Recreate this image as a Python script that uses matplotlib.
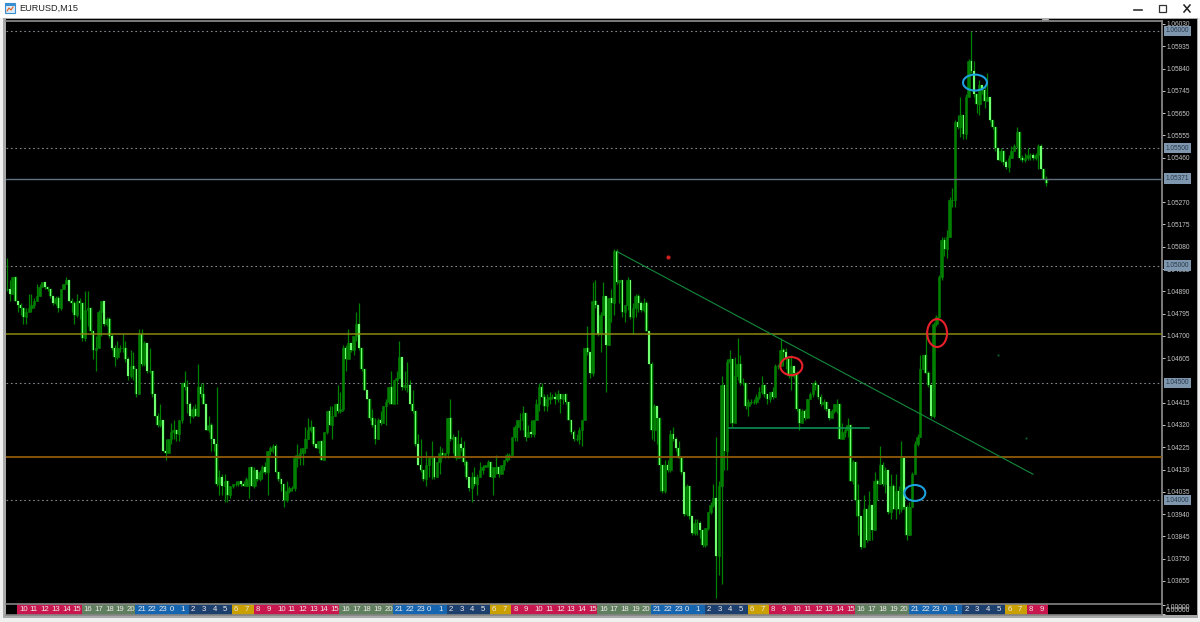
import matplotlib
matplotlib.use("Agg")
import matplotlib.pyplot as plt
from matplotlib.patches import Ellipse, Rectangle

# prices are kept as pips above 1.03000
BASE = 1.03
closes = [
    190,188,195,185,183,182,178,180,182,183, 185,187,191,193,191,190,187,184,186,182,
    190,192,194,185,184,179,185,184,169,181, 182,172,164,165,180,185,175,177,170,165,
    161,165,165,165,160,153,157,156,145,171, 158,167,155,155,145,136,132,134,121,120,
    126,129,130,128,134,150,148,141,136,139, 136,148,145,141,130,132,126,124,107,110,
    106,108,102,106,107,107,108,107,106,109, 114,106,113,109,112,114,112,121,122,123,
    112,109,107,100,104,105,105,118,119,120, 122,126,130,131,124,122,125,117,129,138,
    132,136,141,138,139,165,160,167,164,170, 175,165,156,147,143,135,132,126,134,133,
    140,142,148,141,151,152,161,148,149,149, 141,138,124,115,113,109,115,118,118,110,
    116,120,119,120,135,126,127,118,124,122, 116,110,105,110,107,110,113,114,115,116,
    110,114,114,111,115,117,119,119,127,131, 134,134,137,127,129,128,134,141,148,144,
    140,143,144,144,143,145,143,145,142,134, 129,126,126,130,134,165,163,154,185,183,
    171,179,187,166,186,184,206,193,194,180, 183,194,178,182,187,184,181,184,172,158,
    130,140,135,115,104,115,113,128,126,122, 118,112,94,106,93,86,90,90,87,81,
    88,95,98,101,76,106,149,121,159,160, 133,153,158,150,150,140,142,142,142,144,
    146,149,145,143,146,144,157,157,164,163, 160,153,157,154,139,133,138,135,143,145,
    150,149,144,141,142,139,135,138,141,141, 126,129,130,132,108,116,100,93,80,96,
    83,98,87,108,107,115,107,113,95,106, 96,104,96,118,97,85,97,111,124,127,
    156,162,154,149,136,175,178,195,211,207, 212,228,228,261,259,264,256,272,287,283,
    273,269,277,275,270,272,262,259,250,245, 249,244,242,246,249,251,257,246,245,246,
    247,247,246,247,251,241,237,235,
]
highs = [
    203,194,195,195,185,184,182,182,188,188, 186,192,192,193,193,191,190,187,187,187,
    190,192,195,194,186,185,188,186,184,189, 189,182,172,170,181,185,181,178,178,171,
    166,168,166,171,168,161,164,163,156,173, 173,168,167,165,155,143,137,141,134,126,
    126,133,134,130,134,150,155,151,142,140, 141,158,150,150,141,136,133,126,148,113,
    111,111,108,106,107,108,108,108,108,110, 114,114,114,113,113,115,116,121,123,124,
    124,112,109,107,108,106,106,119,124,122, 122,131,135,134,131,124,125,125,129,138,
    140,140,141,149,146,166,166,173,167,170, 180,184,165,156,147,143,139,135,135,138,
    140,143,148,155,151,155,168,161,155,159, 151,147,138,128,126,113,121,118,125,118,
    116,123,122,120,135,143,128,127,130,127, 125,117,110,112,114,111,116,115,115,117,
    114,114,119,114,115,117,120,120,127,132, 134,137,140,137,132,134,134,143,150,150,
    145,145,146,145,146,147,145,145,145,142, 134,130,128,131,134,165,174,163,193,194,
    183,180,193,187,186,190,207,207,194,194, 183,195,194,184,188,188,185,186,185,172,
    159,141,139,135,115,117,117,130,131,127, 125,118,112,107,106,93,92,92,91,87,
    88,95,99,107,127,108,153,149,160,164, 160,161,169,162,152,150,143,143,143,145,
    148,153,149,145,146,148,158,158,169,165, 165,160,162,157,155,139,139,139,143,146,
    150,151,149,145,143,142,139,139,141,143, 141,133,131,135,132,117,116,107,93,102,
    96,104,98,112,109,123,116,114,113,111, 107,111,106,125,118,98,99,112,125,128,
    162,162,172,155,149,176,179,196,212,212, 215,229,233,262,264,272,261,273,288,300,
    287,273,279,276,277,282,272,262,259,250, 250,249,245,247,251,252,259,257,247,248,
    250,248,248,248,252,252,241,238,
]
lows = [
    189,185,188,185,180,179,175,175,180,180, 182,185,187,191,190,189,186,183,183,180,
    181,190,192,185,180,175,178,177,168,168, 174,171,160,155,165,170,174,174,169,164,
    157,160,163,163,159,151,152,151,144,153, 157,157,154,154,144,136,131,131,121,117,
    120,124,126,125,125,133,147,137,133,135, 136,138,144,141,130,129,121,121,106,102,
    102,99,99,101,105,106,106,106,106,106, 101,106,105,108,108,109,111,102,119,120,
    112,108,104,97,99,103,104,104,114,115, 115,120,126,129,123,122,120,117,117,128,
    132,126,136,137,137,138,155,164,163,162, 168,164,155,147,143,134,131,124,126,132,
    135,132,141,141,141,141,152,147,147,146, 141,137,123,115,112,108,106,110,109,109,
    110,111,118,118,118,125,120,117,118,121, 115,109,104,99,106,102,110,111,114,114,
    110,102,111,110,112,113,116,117,119,125, 125,130,130,125,127,127,127,134,138,144,
    138,138,141,143,141,142,137,141,141,134, 128,125,125,124,123,134,162,152,153,182,
    170,163,179,146,166,176,179,192,184,178, 176,181,177,171,178,180,180,180,172,158,
    126,125,124,104,103,103,112,112,125,121, 118,111,93,93,92,85,85,85,84,80,
    80,87,94,97,58,68,64,113,113,133, 131,137,151,149,149,139,136,141,141,141,
    143,145,144,141,142,143,144,156,157,157, 156,152,147,152,138,130,134,134,138,144,
    144,147,143,140,139,138,134,135,137,137, 126,127,127,127,108,107,93,85,79,80,
    82,83,83,96,100,107,106,103,94,92, 96,92,94,95,96,83,85,97,111,123,
    127,156,154,148,135,135,174,178,194,204, 203,212,225,225,258,255,254,254,272,282,
    272,265,264,273,267,270,261,258,249,245, 244,243,241,240,246,249,250,245,244,244,
    245,245,245,245,241,241,237,234,
]

price_ticks = [1.0603, 1.05935, 1.0584, 1.05745, 1.0565, 1.05555, 1.0546, 1.0527, 1.05175, 1.0508,
               1.04985, 1.0489, 1.04795, 1.047, 1.04605, 1.04415, 1.0432, 1.04225, 1.0413, 1.04035,
               1.0394, 1.03845, 1.0375, 1.03655]
round_levels = [1.06, 1.055, 1.05, 1.045, 1.04]
last_price = 1.05371
yellow_level = 1.04708
orange_level = 1.04183

hours = [10, 11, 12, 13, 14, 15, 16, 17, 18, 19, 20, 21, 22, 23, 0, 1, 2, 3, 4, 5, 6, 7, 8, 9] * 4
first_hour_bar = 3.7
hour_colors = {}
for h in range(8, 16):
    hour_colors[h] = "#c8174f"
for h in range(16, 21):
    hour_colors[h] = "#5f7f5f"
for h in [21, 22, 23, 0, 1]:
    hour_colors[h] = "#1565b0"
for h in [2, 3, 4, 5]:
    hour_colors[h] = "#1d3f6e"
for h in [6, 7]:
    hour_colors[h] = "#c9a000"

trend_x = [227, 382]
trend_y = [1.0506, 1.0411]
flat_x = [268.8, 321]
flat_y = [1.04307, 1.04307]

# x, y, width in bars, height in price, colour
ellipses = [
    (360.4, 1.0578, 8.9, 0.00068, "#1ea0e0"),
    (338.0, 1.0403, 7.8, 0.00068, "#1ea0e0"),
    (292.0, 1.04571, 8.2, 0.00077, "#e8202a"),
    (346.3, 1.04712, 7.4, 0.00119, "#e8202a"),
]

W, H = 1200, 622
PX = 2.685
X0 = 7.3


def price(pips):
    return BASE + pips / 10000


fig = plt.figure(figsize=(W / 100, H / 100), dpi=100, facecolor="#f0f0f0")
plt.rcParams["font.family"] = ["Liberation Sans", "DejaVu Sans"]

# window chrome, in pixels
chrome = fig.add_axes([0, 0, 1, 1], zorder=0)
chrome.set_xlim(0, W)
chrome.set_ylim(H, 0)
chrome.axis("off")
chrome.add_patch(Rectangle((0, 0), W, 18, fc="white", ec="none"))
chrome.add_patch(Rectangle((3, 18), 1195, 600, fc="#a8a8a8", ec="none"))
chrome.add_patch(Rectangle((6, 19), 1191, 596, fc="black", ec="none"))
chrome.add_patch(Rectangle((5, 3), 10, 10, fc="#dcecfa", ec="#3a8fd0", lw=0.8))
chrome.add_patch(Rectangle((5, 3), 10, 2.5, fc="#3a8fd0", ec="none"))
chrome.plot([7, 9, 11, 13], [11, 8, 10, 7], color="#e06020", lw=0.8)
chrome.text(19, 8.5, "EURUSD,M15", fontsize=6.6, va="center", ha="left", color="#222222")
chrome.plot([1134, 1142], [9.5, 9.5], color="#333333", lw=1.2)
chrome.add_patch(Rectangle((1159, 5), 7, 7, fc="none", ec="#333333", lw=0.9))
chrome.plot([1184, 1190], [5, 12], color="#222222", lw=1.1)
chrome.plot([1184, 1190], [12, 5], color="#222222", lw=1.1)
chrome.plot([1045], [21.5], marker="v", ms=4, color="#b0b0b0", clip_on=False)

# price pane
ax = fig.add_axes([6 / W, 1 - 604 / H, (1162 - 6) / W, (604 - 21) / H], zorder=1, facecolor="black")
ax.set_xlim((6 - X0) / PX, (1162 - X0) / PX)
ax.set_ylim(1.04 - 104 / 23450, 1.04 + 479 / 23450)

for level in round_levels:
    ax.axhline(level, color="#808890", lw=0.8, ls=(0, (1.5, 2.5)), zorder=1)

opens = [closes[0]] + closes[:-1]
for i, (o, c, hi, lo) in enumerate(zip(opens, closes, highs, lows)):
    ax.vlines(i, price(lo), price(hi), color="#008000", lw=0.9, zorder=2)
    bottom = price(min(o, c))
    height = abs(c - o) / 10000
    if c >= o:
        ax.bar(i, height, bottom=bottom, width=0.95, color="#008000", edgecolor="#008000", lw=0.4, zorder=3)
    else:
        ax.bar(i, height, bottom=bottom, width=0.95, color="#008000", edgecolor="#008000", lw=0.3, zorder=3)
        ax.bar(i, height, bottom=bottom, width=0.48, color="#70ff70", lw=0, zorder=4)

ax.axhline(yellow_level, color="#8a8a10", lw=1.1, zorder=5)
ax.axhline(orange_level, color="#8f5a08", lw=1.3, zorder=5)
ax.axhline(last_price, color="#62727e", lw=1.0, zorder=5)

ax.plot(trend_x, trend_y, color="#138a3c", lw=0.8, zorder=6)
ax.plot(flat_x, flat_y, color="#0c9a5a", lw=1.1, zorder=6)
for ex, ey, ew, eh, col in ellipses:
    ax.add_patch(Ellipse((ex, ey), ew, eh, fc="none", ec=col, lw=1.5, zorder=7))
ax.plot([246], [1.05036], marker="o", ms=2, color="#d02020", zorder=7)
ax.plot([369], [1.0462], marker=".", ms=1, color="#0a7030", zorder=7)
ax.plot([379.5], [1.04264], marker=".", ms=1, color="#0a7030", zorder=7)

ax.yaxis.tick_right()
ax.set_yticks(price_ticks)
ax.set_yticklabels([f"{p:.5f}" for p in price_ticks])
ax.tick_params(axis="y", colors="#c8c8c8", labelsize=4.7, length=2.5, width=0.7, pad=0.8)
ax.set_xticks([])
for side in ["left", "bottom"]:
    ax.spines[side].set_visible(False)
for side in ["top", "right"]:
    ax.spines[side].set_color("#858585")
    ax.spines[side].set_linewidth(1.3)

box_levels = round_levels + [last_price]
for level in box_levels:
    ax.text(1 + 3.5 / 1156, level, f"{level:.5f}", transform=ax.get_yaxis_transform(), fontsize=4.7,
            va="center", ha="left", color="#26384a", clip_on=False, zorder=8,
            bbox=dict(fc="#7f97ae", ec="none", pad=1.1))

# hour strip
strip = fig.add_axes([6 / W, 1 - 615 / H, (1162 - 6) / W, (615 - 604) / H], zorder=2, facecolor="black")
strip.set_xlim(ax.get_xlim())
strip.set_ylim(0, 1)
for n, h in enumerate(hours):
    left = first_hour_bar + n * 4
    strip.bar(left, 1, width=4, align="edge", color=hour_colors[h], lw=0)
    strip.text(left + 0.7, 0.47, str(h), fontsize=5.6, color="#f0e8e8", va="center", ha="left")
strip.set_xticks([])
strip.yaxis.tick_right()
strip.set_yticks([0.05, 0.95])
strip.set_yticklabels(["", ""])
strip.tick_params(axis="y", colors="#c8c8c8", length=2.5, width=0.7)
for side in strip.spines:
    strip.spines[side].set_color("#858585")
    strip.spines[side].set_linewidth(1.2)
strip.spines["left"].set_visible(False)
strip.text(1 + 3.5 / 1156, 0.45, "0.00000", transform=strip.transAxes, fontsize=4.9, color="#c8c8c8",
           va="center", ha="left", clip_on=False)
strip.text(1 + 3.5 / 1156, 0.65, "1.00000", transform=strip.transAxes, fontsize=4.9, color="#c8c8c8",
           va="center", ha="left", clip_on=False)

fig.savefig("out.png", dpi=100, facecolor=fig.get_facecolor())
